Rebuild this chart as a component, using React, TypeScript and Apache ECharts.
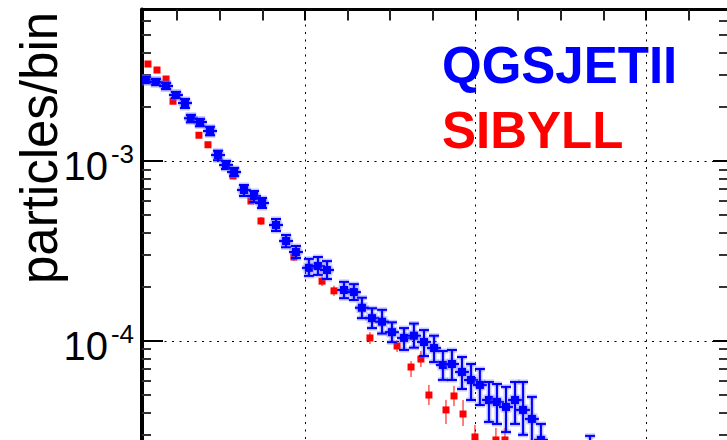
import React, { useEffect, useRef } from 'react';
import * as echarts from 'echarts';

// ---- axis ranges / ticks ----
const xMin = 4.4;
const xMax = 348.7;
const yMin = 2e-5;
const yMax = 6.95e-3;
const yTickExponents = [-3, -4];

// ---- legend / title texts ----
const yTitle = 'particles/bin';
const seriesNames = ['QGSJETII', 'SIBYLL'];

// ---- QGSJETII (blue) ----
const qgsX = [6.7, 12.6, 18.5, 24.3, 29.6, 33.1, 38.4, 44.3, 49.0, 53.7, 58.4, 64.2, 70.1, 74.8, 83.0, 88.9, 94.7,
  102.3, 107.6, 112.9, 122.9, 128.7, 133.4, 139.3, 145.2, 151.0, 158.1, 163.9, 169.8, 175.7, 180.9, 186.2, 192.1,
  197.4, 202.6, 207.9, 212.6, 217.9, 223.2, 227.9, 233.1, 238.4, 267.2];
const qgsY = [2.82e-3, 2.75e-3, 2.61e-3, 2.33e-3, 2.10e-3, 1.73e-3, 1.65e-3, 1.47e-3, 1.08e-3, 9.5e-4, 8.69e-4, 6.9e-4,
  6.39e-4, 5.84e-4, 4.41e-4, 3.59e-4, 3.12e-4, 2.55e-4, 2.61e-4, 2.48e-4, 1.92e-4, 1.87e-4, 1.53e-4, 1.34e-4, 1.28e-4,
  1.12e-4, 1.04e-4, 1.07e-4, 9.87e-5, 9.14e-5, 7.36e-5, 7.45e-5, 6.73e-5, 6.07e-5, 5.7e-5, 4.7e-5, 4.58e-5, 4.3e-5,
  4.7e-5, 4.14e-5, 3.69e-5, 2.82e-5, 2.48e-5];
const qgsLow = [2.71e-3, 2.65e-3, 2.51e-3, 2.24e-3, 1.97e-3, 1.64e-3, 1.56e-3, 1.39e-3, 1.01e-3, 9.02e-4, 8.25e-4, 6.39e-4,
  5.92e-4, 5.48e-4, 4.08e-4, 3.32e-4, 2.89e-4, 2.3e-4, 2.33e-4, 2.21e-4, 1.73e-4, 1.69e-4, 1.34e-4, 1.18e-4, 1.1e-4,
  9.85e-5, 8.92e-5, 9.18e-5, 8.25e-5, 7.64e-5, 6.08e-5, 6.07e-5, 5.41e-5, 4.7e-5, 4.41e-5, 3.55e-5, 3.46e-5, 3.12e-5,
  3.46e-5, 3.01e-5, 2.58e-5, 1.92e-5, 1.92e-5];
const qgsHigh = [2.93e-3, 2.86e-3, 2.71e-3, 2.42e-3, 2.21e-3, 1.8e-3, 1.71e-3, 1.55e-3, 1.14e-3, 1.0e-3, 9.15e-4, 7.36e-4,
  6.81e-4, 6.23e-4, 4.76e-4, 3.88e-4, 3.37e-4, 2.86e-4, 2.93e-4, 2.78e-4, 2.13e-4, 2.07e-4, 1.74e-4, 1.52e-4, 1.49e-4,
  1.27e-4, 1.18e-4, 1.25e-4, 1.15e-4, 1.07e-4, 8.8e-5, 8.91e-5, 8.15e-5, 7.45e-5, 6.99e-5, 5.92e-5, 5.77e-5, 5.56e-5,
  5.92e-5, 5.92e-5, 4.89e-5, 3.46e-5, 2.97e-5];

// ---- SIBYLL (red) ----
const sibX = [7.9, 13.2, 18.5, 22.6, 37.8, 43.1, 57.8, 68.3, 74.2, 93.5, 110.0, 117.0, 138.1, 154.0, 162.2, 168.0, 172.7,
  182.7, 187.4, 192.7, 199.7, 212.0, 217.3];
const sibY = [3.46e-3, 3.2e-3, 2.86e-3, 2.15e-3, 1.39e-3, 1.23e-3, 8.26e-4, 6.0e-4, 4.64e-4, 2.93e-4, 2.15e-4, 1.9e-4,
  1.04e-4, 9.38e-5, 7.17e-5, 7.94e-5, 5.01e-5, 4.14e-5, 4.95e-5, 3.93e-5, 2.93e-5, 2.82e-5, 2.82e-5];
const sibLow = [3.37e-3, 3.12e-3, 2.79e-3, 2.1e-3, 1.34e-3, 1.18e-3, 7.95e-4, 5.77e-4, 4.41e-4, 2.78e-4, 2.02e-4, 1.78e-4,
  9.63e-5, 8.69e-5, 6.31e-5, 7.17e-5, 4.41e-5, 3.46e-5, 4.35e-5, 3.37e-5, 2.51e-5, 2.42e-5, 2.42e-5];
const sibHigh = [3.55e-3, 3.28e-3, 2.93e-3, 2.21e-3, 1.44e-3, 1.28e-3, 8.58e-4, 6.23e-4, 4.89e-4, 3.09e-4, 2.29e-4, 2.03e-4,
  1.12e-4, 1.01e-4, 7.74e-5, 8.8e-5, 5.7e-5, 4.71e-5, 5.63e-5, 4.7e-5, 3.42e-5, 3.29e-5, 3.29e-5];

const FONT = '"Liberation Sans", Arial, Helvetica, sans-serif';

const rows = (xs: number[], ys: number[], lo: number[], hi: number[]) =>
  xs.map((x, i) => [x, ys[i], lo[i], hi[i]]);

const makeRender = (color: string, halo: string | null, lw: number, cap: number, xHalf: number, size: number) =>
  (_params: any, api: any) => {
    const x = api.value(0);
    const p = api.coord([x, api.value(1)]);
    const pl = api.coord([x, api.value(2)]);
    const ph = api.coord([x, api.value(3)]);
    const segs = [
      [p[0], ph[1], p[0], pl[1]],
      [p[0] - cap, ph[1], p[0] + cap, ph[1]],
      [p[0] - cap, pl[1], p[0] + cap, pl[1]],
      [p[0] - xHalf, p[1], p[0] + xHalf, p[1]],
    ];
    const children: any[] = [];
    if (halo) {
      segs.forEach((s) =>
        children.push({ type: 'line', shape: { x1: s[0], y1: s[1], x2: s[2], y2: s[3] }, style: { stroke: halo, lineWidth: lw + 3 } })
      );
      children.push({ type: 'rect', shape: { x: p[0] - size / 2 - 1.5, y: p[1] - size / 2 - 1.5, width: size + 3, height: size + 3 }, style: { fill: halo } });
    }
    segs.forEach((s) =>
      children.push({ type: 'line', shape: { x1: s[0], y1: s[1], x2: s[2], y2: s[3] }, style: { stroke: color, lineWidth: lw } })
    );
    children.push({ type: 'rect', shape: { x: p[0] - size / 2, y: p[1] - size / 2, width: size, height: size }, style: { fill: color } });
    return { type: 'group', children };
  };

export default function App() {
  const ref = useRef<HTMLDivElement>(null);
  useEffect(() => {
    document.body.style.margin = '0';
    document.body.style.overflow = 'hidden';
    const chart = echarts.init(ref.current!, null, { renderer: 'svg' });
    const labelFmt = (v: number) => {
      const e = Math.log10(v);
      const r = Math.round(e);
      if (Math.abs(e - r) > 1e-6 || yTickExponents.indexOf(r) < 0) return '';
      return `{b|10}{s|${r}}`;
    };
    chart.setOption({
      animation: false,
      backgroundColor: '#fff',
      grid: { left: 142, top: 9.5, right: -2, bottom: -26.8, outerBoundsMode: 'none', containLabel: false },
      xAxis: {
        type: 'value',
        position: 'top',
        min: xMin,
        max: xMax,
        minInterval: 100,
        maxInterval: 100,
        axisLine: { show: true, lineStyle: { color: '#000', width: 3 } },
        axisTick: { show: true, inside: true, length: 11, lineStyle: { color: '#000', width: 2 } },
        minorTick: { show: true, splitNumber: 4, length: 11, lineStyle: { color: '#222', width: 2 } },
        axisLabel: { show: false },
        splitLine: { show: true, lineStyle: { color: '#000', width: 1, type: [2, 5.5] } },
        minorSplitLine: { show: false },
      },
      yAxis: [
        {
          type: 'log',
          logBase: 10,
          position: 'left',
          min: yMin,
          max: yMax,
          axisLine: { show: true, lineStyle: { color: '#000', width: 4 } },
          axisTick: { show: true, inside: true, length: 21, lineStyle: { color: '#000', width: 2 } },
          minorTick: { show: true, splitNumber: 9, length: 9, lineStyle: { color: '#333', width: 2 } },
          splitLine: { show: true, lineStyle: { color: '#000', width: 1, type: [2, 5.5] } },
          minorSplitLine: { show: false },
          axisLabel: {
            show: true,
            margin: 8,
            formatter: labelFmt,
            rich: {
              b: { fontSize: 40, fontFamily: FONT, color: '#000', lineHeight: 40, padding: [10, 0, 0, 0] },
              s: { fontSize: 26, fontFamily: FONT, color: '#000', lineHeight: 26, verticalAlign: 'top', padding: [0, 0, 0, 3] },
            },
          },
        },
        {
          type: 'log',
          logBase: 10,
          position: 'right',
          min: yMin,
          max: yMax,
          axisLine: { show: true, lineStyle: { color: '#000', width: 3 } },
          axisTick: { show: true, inside: true, length: 16, lineStyle: { color: '#000', width: 2 } },
          minorTick: { show: true, splitNumber: 9, length: 10, lineStyle: { color: '#333', width: 2 } },
          splitLine: { show: false },
          axisLabel: { show: false },
        },
      ],
      graphic: [
        {
          type: 'text',
          x: 65,
          y: 148,
          rotation: Math.PI / 2,
          style: { text: yTitle, fontSize: 51, fontFamily: FONT, fill: '#000', textAlign: 'center', textVerticalAlign: 'bottom' },
        },
        {
          type: 'text',
          x: 442,
          y: 40.3,
          style: { text: seriesNames[0], fontSize: 51, fontWeight: 'bold', fontFamily: FONT, fill: '#0000ff', textAlign: 'left', textVerticalAlign: 'top' },
        },
        {
          type: 'text',
          x: 442,
          y: 105.3,
          style: { text: seriesNames[1], fontSize: 51, fontWeight: 'bold', fontFamily: FONT, fill: '#ff0000', textAlign: 'left', textVerticalAlign: 'top' },
        },
      ],
      series: [
        {
          name: seriesNames[1],
          type: 'custom',
          clip: true,
          silent: true,
          encode: { x: 0, y: 1 },
          data: rows(sibX, sibY, sibLow, sibHigh),
          renderItem: makeRender('#ff0000', null, 1, 0, 0, 7),
        },
        {
          name: seriesNames[0],
          type: 'custom',
          clip: true,
          silent: true,
          encode: { x: 0, y: 1 },
          data: rows(qgsX, qgsY, qgsLow, qgsHigh),
          renderItem: makeRender('#0000ff', 'rgba(90,90,255,0.35)', 2, 5, 7, 8),
        },
      ],
    });
    return () => chart.dispose();
  }, []);
  return <div ref={ref} style={{ width: 727, height: 440, position: 'absolute', left: 0, top: 0 }} />;
}
